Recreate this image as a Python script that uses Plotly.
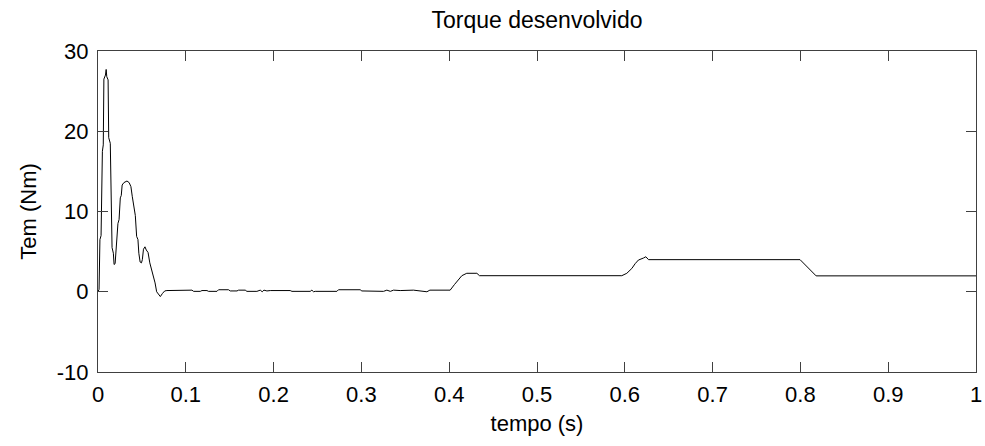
import plotly.graph_objects as go

# time (s) and developed torque (Nm)
tempo = [
    0.0, 0.0012, 0.0022, 0.0035, 0.0050, 0.0060, 0.0067, 0.0085, 0.0093, 0.0100,
    0.0115, 0.0122, 0.0140, 0.0150, 0.0160, 0.0175, 0.0183, 0.0195, 0.0205, 0.0215,
    0.0227, 0.0240, 0.0254, 0.0265, 0.0275, 0.0295, 0.0330, 0.0355, 0.0375, 0.0390,
    0.0410, 0.0425, 0.0440, 0.0455, 0.0465, 0.0480, 0.0495, 0.0505, 0.0518, 0.0535,
    0.0550, 0.0570, 0.0590, 0.0610, 0.0630, 0.0650, 0.0668, 0.0690, 0.0710, 0.0735,
    0.0760, 0.0785, 0.0937, 0.0956, 0.1070, 0.1089, 0.1165, 0.1184, 0.1241, 0.1259,
    0.1355, 0.1373, 0.1487, 0.1506, 0.1583, 0.1601, 0.1677, 0.1696, 0.1810, 0.1848,
    0.1870, 0.1890, 0.1924, 0.1962, 0.2189, 0.2209, 0.2417, 0.2436, 0.2455, 0.2474,
    0.2721, 0.2739, 0.2986, 0.3005, 0.3063, 0.3081, 0.3252, 0.3290, 0.3330, 0.3366,
    0.3442, 0.3593, 0.3746, 0.3780, 0.3821, 0.4011, 0.4060, 0.4106, 0.4144, 0.4200,
    0.4315, 0.4345, 0.5966, 0.6023, 0.6080, 0.6118, 0.6155, 0.6212, 0.6240, 0.6270,
    0.7996, 0.8179, 1.0,
]
torque = [
    0.0, 0.3, 6.5, 7.0, 17.5, 18.3, 26.5, 27.0, 27.7, 26.8,
    26.4, 19.2, 18.5, 10.5, 5.5, 4.8, 3.4, 3.5, 5.2, 5.8,
    8.5, 9.0, 11.7, 12.0, 13.3, 13.6, 13.8, 13.6, 13.1, 11.9,
    10.2, 9.5, 6.9, 6.5, 4.8, 3.7, 3.6, 4.0, 5.3, 5.6,
    5.2, 4.9, 3.6, 2.7, 2.2, 1.1, 0.0, -0.4, -0.6, -0.2,
    0.1, 0.15, 0.15, 0.2, 0.2, 0.05, 0.05, 0.15, 0.15, 0.05,
    0.05, 0.25, 0.25, 0.1, 0.1, 0.2, 0.2, 0.05, 0.05, 0.2,
    0.0, 0.2, 0.1, 0.15, 0.15, 0.05, 0.05, 0.2, 0.0, 0.05,
    0.05, 0.25, 0.25, 0.1, 0.1, 0.05, 0.05, 0.2, 0.05, 0.2,
    0.15, 0.2, 0.0, 0.2, 0.2, 0.2, 0.9, 1.5, 2.0, 2.3,
    2.3, 2.0, 2.0, 2.3, 2.9, 3.5, 3.95, 4.2, 4.36, 4.0,
    4.0, 1.98, 1.98,
]

x_ticks = [0, 0.1, 0.2, 0.3, 0.4, 0.5, 0.6, 0.7, 0.8, 0.9, 1]
x_tick_text = ["0", "0.1", "0.2", "0.3", "0.4", "0.5", "0.6", "0.7", "0.8", "0.9", "1"]
y_ticks = [-10, 0, 10, 20, 30]
y_tick_text = ["-10", "0", "10", "20", "30"]

fig = go.Figure()
fig.add_trace(go.Scatter(
    x=tempo, y=torque, mode="lines",
    line=dict(color="black", width=1),
    showlegend=False, hoverinfo="skip",
))

font_family = "Liberation Sans, Arial, sans-serif"
axis_common = dict(
    showgrid=False, zeroline=False, automargin=False,
    showline=True, linecolor="#404040", linewidth=1, mirror="ticks",
    ticks="inside", ticklen=10, tickcolor="#404040", tickwidth=1,
    tickfont=dict(family=font_family, size=22, color="black"),
)

fig.update_layout(
    width=985, height=446,
    margin=dict(l=98, r=9, t=51, b=74),
    paper_bgcolor="white", plot_bgcolor="white",
    title=dict(text="Torque desenvolvido", x=537 / 985, xanchor="center",
               y=0.955, yanchor="middle",
               font=dict(family=font_family, size=23, color="black")),
    xaxis=dict(range=[0, 1], tickvals=x_ticks, ticktext=x_tick_text,
               ticklabelstandoff=3,
               title=dict(text="tempo (s)", standoff=9,
                          font=dict(family=font_family, size=22, color="black")),
               **axis_common),
    yaxis=dict(range=[-10, 30], tickvals=y_ticks, ticktext=y_tick_text,
               ticklabelstandoff=4,
               title=dict(text="Tem (Nm)", standoff=14,
                          font=dict(family=font_family, size=22, color="black")),
               **axis_common),
)

fig.write_html("out.html")
